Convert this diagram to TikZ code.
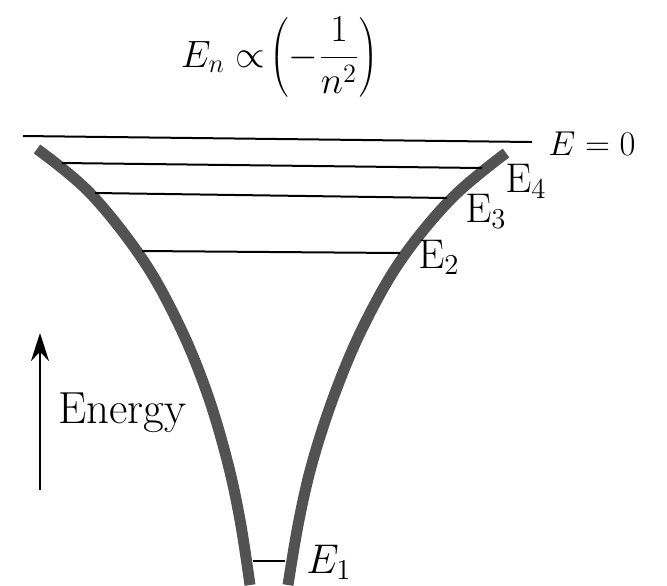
\documentclass[tikz,border=0pt]{standalone}
\usetikzlibrary{arrows.meta}
\begin{document}
\begin{tikzpicture}[x=0.5pt,y=-0.5pt]
    \useasboundingbox (0,0) rectangle (667,585);
    \tikzset{
      puits/.style={line width=5.5pt, draw=black!68},
      niveau/.style={line width=1pt},
      etiq/.style={anchor=base west, inner sep=0pt, font=\fontsize{20.74}{24}\selectfont}
    }
    % Formule des niveaux
    \node[font=\fontsize{17.28}{20}\selectfont, scale=1.1, inner sep=0pt] (titre) at (280,57) {$\displaystyle E_n \propto\!\left(-\frac{1}{n^2}\right)$};

    % Parois du puits de potentiel
    \draw[puits] plot[smooth, tension=0.6] coordinates {(37,149) (90,193) (143,260) (180,327) (207,393) (227,460) (240,520) (250,585)};
    \draw[puits] plot[smooth, tension=0.6] coordinates {(506,153) (452,198) (401,260) (363,327) (335,393) (313,460) (299,520) (288,585)};

    % Extrémités des niveaux (g : gauche, d : droite)
    \coordinate (g0) at (23,136);  \coordinate (d0) at (532,142);
    \coordinate (g4) at (62,163);  \coordinate (d4) at (482,168);
    \coordinate (g3) at (95,193);  \coordinate (d3) at (447,198);
    \coordinate (g2) at (142,251); \coordinate (d2) at (400,253);
    \coordinate (g1) at (253,561); \coordinate (d1) at (285,561);
    \draw[niveau] (g0) -- (d0);
    \draw[niveau] (g4) -- (d4);
    \draw[niveau] (g3) -- (d3);
    \draw[niveau] (g2) -- (d2);
    \draw[niveau] (g1) -- (d1);

    % Étiquettes des niveaux
    \node[etiq, font=\fontsize{17.28}{20}\selectfont] (e0) at (548,155) {$E = 0$};
    \node[etiq] (e4) at (505,192) {$\mathrm{E}_4$};
    \node[etiq] (e3) at (465,222) {$\mathrm{E}_3$};
    \node[etiq] (e2) at (418,268) {$\mathrm{E}_2$};
    \node[etiq] (e1) at (306,573) {$E_1$};

    % Flèche de l'énergie
    \coordinate (fb) at (40,490);
    \coordinate (fh) at (40,333);
    \draw[line width=1pt, -{Stealth[length=14pt,width=9pt]}] (fb) -- (fh);
    \node[etiq, font=\fontsize{22.5}{26}\selectfont] (energie) at (58,423) {Energy};
\end{tikzpicture}
\end{document}
